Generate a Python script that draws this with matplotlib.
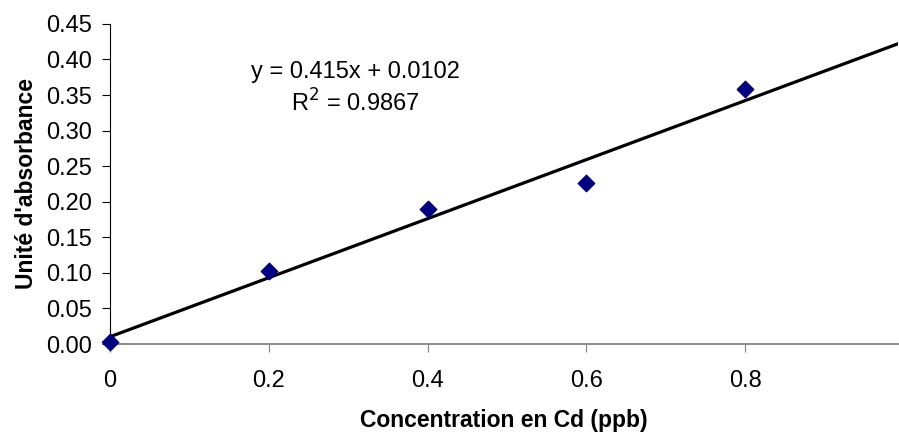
import matplotlib.pyplot as plt
import numpy as np

plt.rcParams['font.family'] = ['Liberation Sans', 'DejaVu Sans']

# Measured points
conc = [0, 0.2, 0.4, 0.6, 0.8]
absorb = [0.0025, 0.1027, 0.1894, 0.2264, 0.3586]

# Trendline shown on the chart
slope = 0.415
intercept = 0.0102
r2 = 0.9867

xticks = [0, 0.2, 0.4, 0.6, 0.8]
xticklabels = ['0', '0.2', '0.4', '0.6', '0.8']
yticks = [0.00, 0.05, 0.10, 0.15, 0.20, 0.25, 0.30, 0.35, 0.40, 0.45]

fig = plt.figure(figsize=(8.99, 4.32), dpi=100)
ax = fig.add_axes([0.1224, 0.2037, 0.877, 0.741])

xmax = 0.993
x_line = np.array([0, xmax])
ax.plot(x_line, slope * x_line + intercept, color='black', linewidth=2.3, zorder=2)
ax.scatter(conc, absorb, marker='D', s=70, color='#000080', zorder=3, clip_on=False)

ax.set_xlim(0, xmax)
ax.set_ylim(0, 0.45)
ax.set_xticks(xticks)
ax.set_xticklabels(xticklabels)
ax.set_yticks(yticks)
ax.set_yticklabels([f'{v:.2f}' for v in yticks])

for s in ['top', 'right']:
    ax.spines[s].set_visible(False)
ax.spines['left'].set_color('black')
ax.spines['bottom'].set_color('#808080')
ax.spines['bottom'].set_linewidth(1.3)

ax.tick_params(axis='x', direction='out', length=6, color='#808080', pad=13, labelsize=17)
ax.tick_params(axis='y', direction='out', length=6, color='black', pad=7, labelsize=17)

ax.set_xlabel('Concentration en Cd (ppb)', fontsize=16.5, fontweight='bold', labelpad=12)
ax.set_ylabel("Unité d'absorbance", fontsize=16.5, fontweight='bold', labelpad=6)

ax.text(0.311, 0.85, f'y = {slope}x + {intercept}', transform=ax.transAxes,
        ha='center', va='center', fontsize=17)
ax.text(0.311, 0.753, f'R$^2$ = {r2}', transform=ax.transAxes,
        ha='center', va='center', fontsize=17)

fig.savefig('out.png', dpi=100)
